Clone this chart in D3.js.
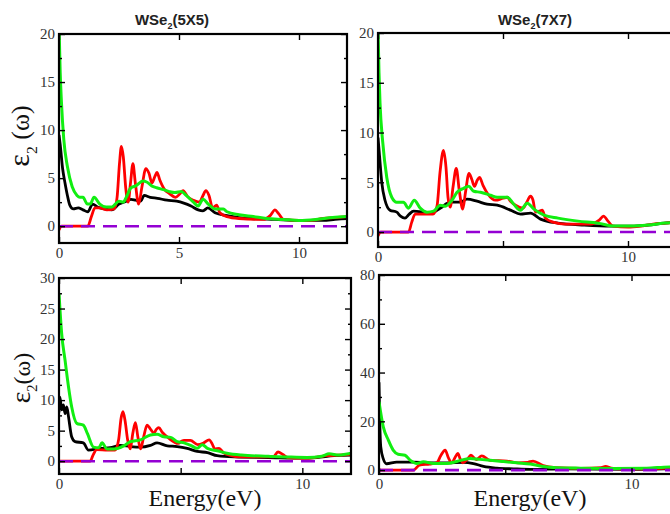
<!DOCTYPE html>
<html><head><meta charset="utf-8">
<script src="https://cdn.jsdelivr.net/npm/d3@7"></script>
<style>body{margin:0;background:#fff}svg{display:block}</style>
</head><body>
<script>
// ---------- data: [energy (eV), eps2] ----------
const tlBlack=[[0,9.5],[0.05,8.5],[0.15,6],[0.25,4.5],[0.35,3.2],[0.45,2.2],[0.6,1.8],[0.8,1.9],[1.0,1.7],[1.2,1.5],[1.4,2.3],[1.6,2.0],[1.9,1.8],[2.2,1.7],[2.5,2.3],[2.8,2.6],[3.0,2.8],[3.2,2.7],[3.4,2.6],[3.55,3.2],[3.8,3.0],[4.1,2.9],[4.5,2.7],[4.9,2.6],[5.2,2.4],[5.5,2.1],[5.8,1.7],[6.0,1.6],[6.2,1.9],[6.5,1.4],[7.0,1.1],[7.5,0.9],[8.0,0.8],[9.0,0.7],[10.0,0.6],[11.0,0.6],[11.5,0.7],[12,0.8]];
const tlRed=[[0,-0.4],[0.1,0],[1.2,0],[1.35,1.0],[1.5,1.9],[1.7,1.9],[2.0,1.7],[2.3,1.8],[2.42,3],[2.52,6.5],[2.6,8.3],[2.68,7.2],[2.78,4],[2.88,2.5],[2.98,4.5],[3.08,6.5],[3.18,4.5],[3.32,2.3],[3.45,4],[3.62,6.0],[3.75,5.5],[3.87,4.5],[4.0,5.2],[4.08,5.6],[4.2,4.8],[4.4,3.8],[4.6,3.4],[4.85,3.0],[5.05,3.4],[5.17,3.7],[5.35,3.1],[5.6,2.7],[5.85,2.5],[6.0,3.2],[6.12,3.7],[6.25,3.2],[6.4,1.9],[6.57,2.2],[6.7,1.4],[7.0,1.0],[7.5,0.8],[8.5,0.7],[8.8,1.1],[9.0,1.7],[9.15,1.3],[9.35,0.7],[10,0.6],[10.5,0.6],[11.0,0.8],[11.5,0.9],[12,1.0]];
const tlGreen=[[0,21],[0.05,16],[0.1,13],[0.2,9],[0.35,6.2],[0.55,4.1],[0.75,3.2],[0.87,3.0],[1.0,3.0],[1.18,2.3],[1.3,2.3],[1.46,3.0],[1.7,2.3],[1.97,2.0],[2.2,2.0],[2.5,2.6],[2.68,2.5],[2.8,3.0],[3.0,4.0],[3.2,4.2],[3.5,4.7],[3.65,4.6],[3.86,4.2],[4.07,4.0],[4.35,3.8],[4.6,3.6],[4.83,3.5],[5.1,3.6],[5.3,3.2],[5.6,2.5],[5.8,2.1],[6.0,2.8],[6.22,2.3],[6.5,1.8],[6.85,1.8],[7.0,1.5],[7.5,1.2],[8.1,1.0],[8.65,0.8],[9.35,0.7],[10,0.6],[10.7,0.7],[11.4,0.9],[12,1.0]];

const trBlack=[[0,9.5],[0.05,8],[0.15,5],[0.28,3.2],[0.48,2.2],[0.75,2.0],[0.9,1.6],[1.08,1.4],[1.25,1.8],[1.42,2.1],[1.82,2.0],[2.1,1.9],[2.49,2.4],[2.89,3.0],[3.29,3.0],[3.56,3.3],[3.96,3.1],[4.36,2.8],[4.77,2.7],[5.3,2.2],[5.7,1.8],[6.1,1.9],[6.5,1.3],[7.2,0.9],[8.25,0.7],[9.32,0.6],[10.12,0.6],[10.79,0.7],[11.46,0.9],[12,1.0]];
const trRed=[[0,-0.4],[0.1,0],[1.22,0],[1.35,1.0],[1.49,1.8],[1.8,1.8],[2.2,1.8],[2.36,2.6],[2.48,6],[2.62,8.2],[2.72,6.5],[2.8,3.5],[2.89,2.5],[3.0,4.5],[3.13,6.4],[3.25,4.2],[3.39,2.3],[3.5,4],[3.64,5.9],[3.75,5.3],[3.86,4.6],[3.97,5.2],[4.06,5.5],[4.2,4.7],[4.4,3.8],[4.7,3.2],[5.0,3.4],[5.17,3.5],[5.3,3.1],[5.5,2.7],[5.8,2.4],[5.95,3.0],[6.1,3.6],[6.2,3.2],[6.3,2.0],[6.45,2.1],[6.57,2.2],[6.7,1.4],[7.0,1.0],[7.5,0.8],[8.5,0.8],[8.85,1.2],[9.02,1.6],[9.2,1.1],[9.4,0.6],[10,0.5],[10.5,0.6],[11,0.8],[11.5,0.9],[12,1.0]];
const trGreen=[[0,20.5],[0.04,16],[0.08,13],[0.19,9],[0.35,5.5],[0.55,3.5],[0.75,3.0],[1.02,3.0],[1.22,2.4],[1.45,3.2],[1.69,2.4],[1.96,2.0],[2.22,2.1],[2.49,2.7],[2.69,2.6],[2.96,3.2],[3.16,4.0],[3.43,4.4],[3.63,4.6],[3.83,4.1],[4.1,4.0],[4.5,3.7],[4.77,3.5],[5.17,3.5],[5.43,2.8],[5.7,2.2],[5.97,2.9],[6.24,2.3],[6.64,1.7],[7.2,1.4],[8.0,1.1],[8.8,0.9],[9.46,0.6],[10.1,0.6],[10.8,0.7],[11.5,0.9],[12,1.0]];

const blBlack=[[0,8],[0.04,10.5],[0.11,8.4],[0.18,9.2],[0.25,7.8],[0.32,8.9],[0.39,7.3],[0.52,4.0],[0.66,3.2],[1.0,3.0],[1.21,1.8],[1.69,2.1],[2.1,2.2],[2.52,2.6],[2.93,2.4],[3.35,2.3],[3.76,2.6],[4.03,3.0],[4.45,2.5],[4.86,2.4],[5.27,2.1],[5.68,1.6],[6.1,1.4],[6.5,0.9],[7.2,0.7],[8.6,0.6],[10.0,0.5],[10.6,0.6],[11.3,0.9],[12,1.0]];
const blRed=[[0,0],[1.28,0],[1.4,1.0],[1.55,1.9],[2.0,1.8],[2.3,1.8],[2.45,3.5],[2.55,7],[2.63,8.1],[2.72,6.5],[2.82,3.5],[2.93,2.0],[3.03,4.5],[3.14,6.3],[3.24,4.0],[3.35,2.0],[3.48,4.0],[3.62,5.9],[3.75,5.3],[3.9,4.6],[4.0,5.2],[4.1,5.5],[4.25,4.7],[4.5,3.8],[4.9,2.9],[5.05,3.3],[5.14,3.4],[5.4,3.4],[5.7,2.7],[5.95,3.0],[6.17,3.5],[6.3,2.8],[6.4,2.0],[6.58,2.1],[6.75,1.4],[7.0,1.0],[7.5,0.7],[8.8,0.7],[9.0,1.5],[9.2,1.1],[9.4,0.6],[10,0.5],[10.5,0.6],[11,0.9],[11.5,1.0],[12,1.1]];
const blGreen=[[0,27.5],[0.11,20.9],[0.25,16.5],[0.39,12.2],[0.52,8.9],[0.73,6.2],[1.0,5.9],[1.17,4.5],[1.42,2.3],[1.63,2.2],[1.77,3.0],[1.97,2.0],[2.25,2.0],[2.66,2.5],[2.93,3.2],[3.35,3.5],[3.76,4.3],[4.03,4.4],[4.31,4.0],[4.59,3.9],[4.86,3.2],[5.14,3.0],[5.41,2.6],[5.68,2.1],[5.89,2.7],[6.1,2.1],[6.5,1.7],[6.9,1.3],[7.5,1.0],[8.6,0.8],[9.3,0.7],[10.2,0.6],[10.8,0.8],[11.1,1.2],[11.5,1.0],[12,1.3]];

const brBlack=[[0,36],[0.03,20],[0.07,9.5],[0.17,4.6],[0.3,2.6],[0.7,3.3],[1.36,3.3],[2.02,3.0],[2.68,3.0],[3.35,3.2],[3.74,2.7],[4.14,1.5],[4.67,0.8],[5.33,0.5],[5.99,0.3],[7.3,0.5],[9.96,0.3],[11.28,0.5],[12,0.6]];
const brRed=[[0,0],[1.36,0],[1.6,2.0],[2.0,2.5],[2.29,3.0],[2.45,6],[2.62,8.2],[2.75,5],[2.89,3.0],[3.0,5],[3.12,6.8],[3.22,4.5],[3.32,3.0],[3.5,4.5],[3.64,6.1],[3.85,4.3],[4.07,5.8],[4.4,4.0],[5.07,3.7],[5.5,3.0],[5.9,3.2],[6.1,3.7],[6.5,1.8],[7.0,1.0],[8.0,0.7],[8.8,1.0],[8.97,1.5],[9.2,0.8],[9.5,0.5],[10.5,0.5],[12,1.0]];
const brGreen=[[0,28],[0.17,17.7],[0.37,12.3],[0.56,8.2],[0.76,6.5],[1.03,6.1],[1.23,4.1],[1.5,2.7],[1.76,3.4],[2.16,2.7],[2.69,2.7],[3.08,3.5],[3.61,4.8],[4.0,4.4],[4.4,4.0],[4.93,3.5],[5.46,3.0],[5.99,2.5],[6.5,1.5],[7.04,1.0],[7.96,0.8],[9.28,0.7],[10.6,0.8],[11.28,1.2],[12,1.5]];

// tick values / labels
const xTickValues=[0,5,10];
const tlXLabels=[0,5,10];
const otherXLabels=[0,10];
const topYTicks=[0,5,10,15,20];
const blYTicks=[0,5,10,15,20,25,30];
const brYTicks=[0,20,40,60,80];
const titles=["5X5","7X7"];

// ---------- layout ----------
const W=670,H=514;
const svg=d3.select("body").append("svg").attr("width",W).attr("height",H);
const serif="'Liberation Serif','Times New Roman',serif";
const colors={black:"#000000",red:"#ff0000",green:"#11ee11",purple:"#9400d3"};

const panels=[
 {id:"tl",x0:59,x1:347,y0:34,y1:243,ydom:[-1.75,20],yTicks:topYTicks,yMinorStep:2.5,xLabels:tlXLabels,series:[tlBlack,tlRed,tlGreen]},
 {id:"tr",x0:378,x1:678,y0:33,y1:247,ydom:[-1.5,20],yTicks:topYTicks,yMinorStep:2.5,xLabels:otherXLabels,series:[trBlack,trRed,trGreen]},
 {id:"bl",x0:59,x1:351,y0:278,y1:474,ydom:[-2.1,30],yTicks:blYTicks,yMinorStep:2.5,xLabels:otherXLabels,series:[blBlack,blRed,blGreen]},
 {id:"br",x0:379,x1:682,y0:275,y1:474,ydom:[-1.6,80],yTicks:brYTicks,yMinorStep:10,xLabels:otherXLabels,series:[brBlack,brRed,brGreen]}
];
const seriesColors=[colors.black,colors.red,colors.green];
const seriesWidths=[2.8,2.8,3];

panels.forEach(p=>{
  const x=d3.scaleLinear().domain([0,12]).range([p.x0,p.x1]);
  const y=d3.scaleLinear().domain(p.ydom).range([p.y1,p.y0]);
  const g=svg.append("g");
  svg.append("clipPath").attr("id","clip-"+p.id).append("rect")
    .attr("x",p.x0).attr("y",p.y0).attr("width",p.x1-p.x0).attr("height",p.y1-p.y0);
  const plot=g.append("g").attr("clip-path","url(#clip-"+p.id+")");
  const line=d3.line().x(d=>x(d[0])).y(d=>y(d[1])).curve(d3.curveMonotoneX);
  p.series.forEach((s,i)=>{
    plot.append("path").datum(s).attr("d",line).attr("fill","none")
      .attr("stroke",seriesColors[i]).attr("stroke-width",seriesWidths[i]).attr("stroke-linejoin","round");
  });
  plot.append("path").datum([[0,0],[12,0]]).attr("d",d3.line().x(d=>x(d[0])).y(d=>y(d[1])))
    .attr("stroke",colors.purple).attr("stroke-width",2.6).attr("stroke-dasharray","14,8").attr("fill","none");

  const minor=d3.range(0,p.ydom[1]+1e-9,p.yMinorStep).filter(v=>!p.yTicks.includes(v));
  const styleAxis=sel=>{sel.attr("font-family",serif).attr("font-size",15);
    sel.select(".domain").remove();sel.selectAll("line").attr("stroke","#000").attr("stroke-width",1.4);
    sel.selectAll("text").attr("font-family",serif).attr("font-size",15).attr("fill","#333");};
  g.append("g").attr("transform",`translate(${p.x0},0)`)
    .call(d3.axisLeft(y).tickValues(p.yTicks).tickSize(-6).tickPadding(4).tickFormat(d3.format("d"))).call(styleAxis);
  g.append("g").attr("transform",`translate(${p.x0},0)`)
    .call(d3.axisLeft(y).tickValues(minor).tickSize(-3).tickFormat("")).call(styleAxis);
  g.append("g").attr("transform",`translate(${p.x1},0)`)
    .call(d3.axisRight(y).tickValues(p.yTicks).tickSize(-6).tickFormat("")).call(styleAxis);
  g.append("g").attr("transform",`translate(${p.x1},0)`)
    .call(d3.axisRight(y).tickValues(minor).tickSize(-3).tickFormat("")).call(styleAxis);
  g.append("g").attr("transform",`translate(0,${p.y0})`)
    .call(d3.axisTop(x).tickValues(xTickValues).tickSize(-6).tickFormat("")).call(styleAxis);
  g.append("g").attr("transform",`translate(0,${p.y1})`)
    .call(d3.axisBottom(x).tickValues(xTickValues).tickSize(-6).tickPadding(4)
      .tickFormat(d=>p.xLabels.includes(d)?d3.format("d")(d):"")).call(styleAxis);
  g.append("rect").attr("x",p.x0).attr("y",p.y0).attr("width",p.x1-p.x0).attr("height",p.y1-p.y0)
    .attr("fill","none").attr("stroke","#000").attr("stroke-width",2.2);
});

// titles
[[172,titles[0]],[535,titles[1]]].forEach(([cx,t])=>{
  const tx=svg.append("text").attr("x",cx).attr("y",25).attr("text-anchor","middle")
    .attr("font-family","'Liberation Sans',Arial,sans-serif").attr("font-weight","bold").attr("font-size",15).attr("fill","#222");
  tx.append("tspan").text("WSe");
  tx.append("tspan").attr("font-size",9).attr("dy",4).text("2");
  tx.append("tspan").attr("dy",-4).text("("+t+")");
});

// y labels
function yLabel(cx,cy,size,gap){
  const t=svg.append("text").attr("transform",`translate(${cx},${cy}) rotate(-90)`).attr("text-anchor","middle")
    .attr("font-family",serif).attr("font-size",size).attr("fill","#111");
  t.append("tspan").attr("font-size",size*1.15).text("ε");
  t.append("tspan").attr("font-size",size*0.6).attr("dy",size*0.3).text("2");
  t.append("tspan").attr("dy",-size*0.3).text(gap+"(ω)");
}
yLabel(29,136,26," ");
yLabel(30,378,24,"");

// x labels
[[205,"Energy(eV)"],[530,"Energy(eV)"]].forEach(([cx,t])=>{
  svg.append("text").attr("x",cx).attr("y",506).attr("text-anchor","middle")
    .attr("font-family",serif).attr("font-size",24).attr("fill","#111").text(t);
});
</script>
</body></html>
